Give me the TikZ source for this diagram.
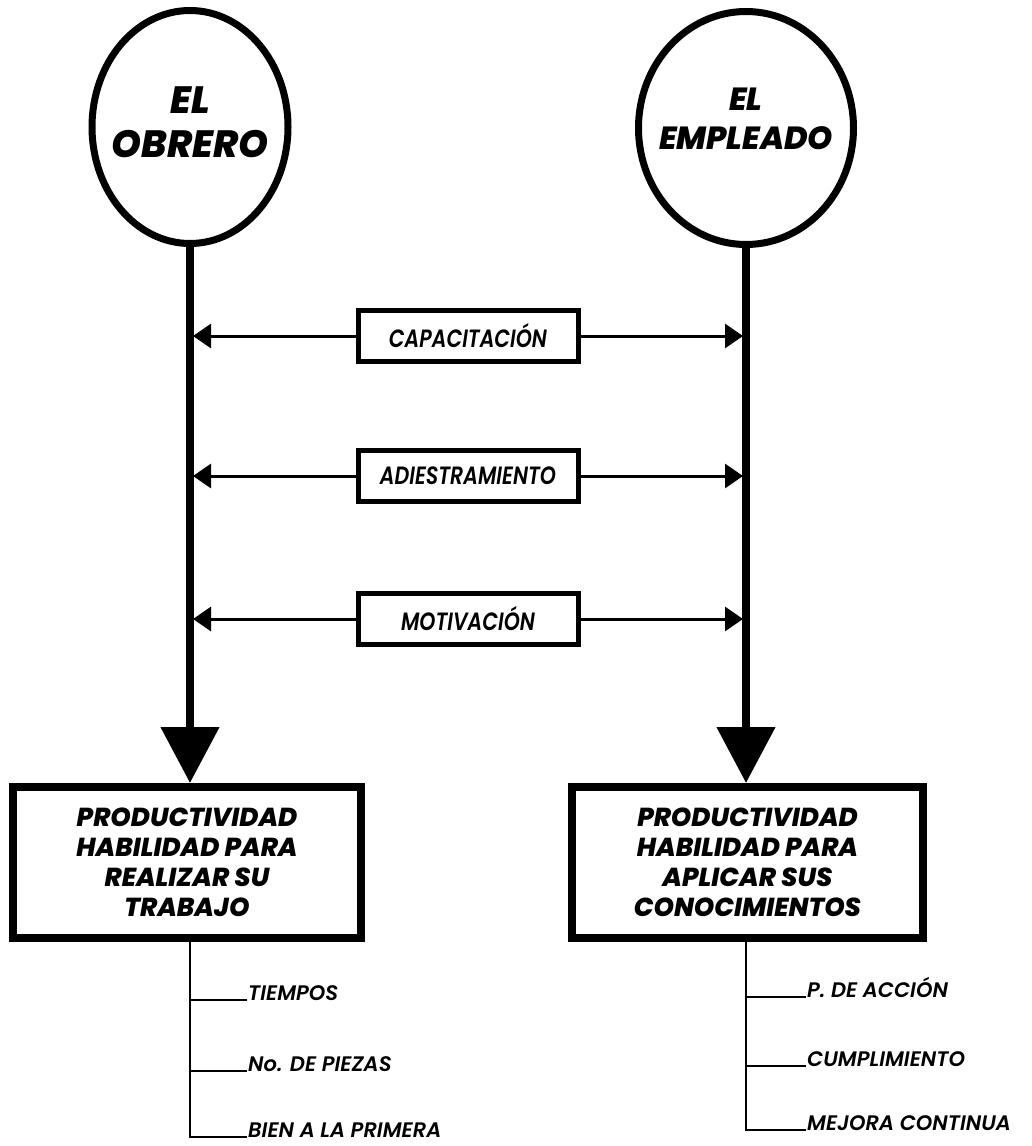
\documentclass[tikz,border=0pt]{standalone}
\usepackage{fontspec}
\setmainfont{Poppins}
\newfontfamily\heavyfont{Poppins ExtraBold Italic}
\newfontfamily\semifont{Poppins SemiBold Italic}
\usetikzlibrary{shapes.geometric,arrows.meta}
\begin{document}
\begin{tikzpicture}[x=1pt,y=-1pt,
  circ/.style={ellipse, draw, line width=7pt, inner sep=0pt},
  circtextA/.style={align=center, inner sep=0pt, font=\heavyfont\fontsize{38}{44}\selectfont},
  circtextB/.style={align=center, inner sep=0pt, font=\heavyfont\fontsize{32}{39}\selectfont},
  bigbox/.style={draw, line width=8pt, inner sep=0pt, align=center, minimum height=151pt, font=\heavyfont\fontsize{26}{30}\selectfont},
  midbox/.style={draw, line width=5pt, minimum width=220pt, minimum height=51pt, inner sep=0pt, font=\semifont\fontsize{25}{26}\selectfont},
  stemarrow/.style={line width=8pt, -{Triangle[length=56pt,width=57pt]}},
  harrow/.style={line width=3pt, -{Triangle[length=18pt,width=24pt]}, shorten >=3pt},
  subline/.style={line width=2pt},
  item/.style={anchor=base west, inner sep=0pt, font=\semifont\fontsize{21}{23}\selectfont}
]
\useasboundingbox (0,0) rectangle (1031,1146);

% top circles
\node[circ, minimum width=196pt, minimum height=233pt] (c1) at (190,127) {};
\node[circ, minimum width=215pt, minimum height=233pt] (c2) at (746,128) {};
\node[circtextA] (c1t) at (190,122) {EL\\OBRERO};
\node[circtextB] (c2t) at (746,119) {EL\\EMPLEADO};

% bottom boxes
\node[bigbox, minimum width=348pt] (b1) at (187,862.5) {PRODUCTIVIDAD\\HABILIDAD PARA\\REALIZAR SU\\TRABAJO};
\node[bigbox, minimum width=351pt] (b2) at (747.5,862.5) {PRODUCTIVIDAD\\HABILIDAD PARA\\APLICAR SUS\\CONOCIMIENTOS};

% middle boxes
\node[midbox] (m1) at (468,336) {\scalebox{0.82}[1]{CAPACITACIÓN}};
\node[midbox] (m2) at (468,476) {\scalebox{0.82}[1]{ADIESTRAMIENTO}};
\node[midbox] (m3) at (468,619) {\scalebox{0.82}[1]{MOTIVACIÓN}};

% main vertical arrows
\draw[stemarrow] (c1.south) -- (c1.south |- b1.north);
\draw[stemarrow] (c2.south) -- (c2.south |- b2.north);

% horizontal arrows
\foreach \m in {m1,m2,m3}{
  \draw[harrow] (\m.west) -- (\m.west -| c1.south);
  \draw[harrow] (\m.east) -- (\m.east -| c2.south);
}

% left sub-list
\coordinate (l0) at (b1.south -| c1.south);
\node[item] (t1) at (248,1000) {TIEMPOS};
\node[item] (t2) at (248,1071) {No. DE PIEZAS};
\node[item] (t3) at (248,1137) {BIEN A LA PRIMERA};
\draw[subline] (l0) |- ([xshift=-1pt]t3.base west);
\draw[subline] (l0 |- t1.base) -- ([xshift=-1pt]t1.base west);
\draw[subline] (l0 |- t2.base) -- ([xshift=-1pt]t2.base west);

% right sub-list
\coordinate (r0) at (b2.south -| c2.south);
\node[item] (u1) at (807,997) {P. DE ACCIÓN};
\node[item] (u2) at (807,1066) {CUMPLIMIENTO};
\node[item] (u3) at (807,1130) {MEJORA CONTINUA};
\draw[subline] (r0) |- ([xshift=-1pt]u3.base west);
\draw[subline] (r0 |- u1.base) -- ([xshift=-1pt]u1.base west);
\draw[subline] (r0 |- u2.base) -- ([xshift=-1pt]u2.base west);
\end{tikzpicture}
\end{document}
